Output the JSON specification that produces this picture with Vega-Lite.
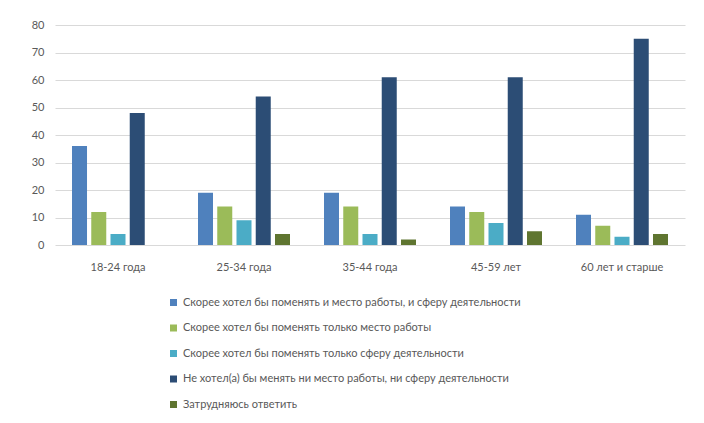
{
  "$schema": "https://vega.github.io/schema/vega-lite/v6.json",
  "width": 630,
  "height": 220,
  "autosize": "none",
  "padding": {"left": 55, "top": 25, "right": 19, "bottom": 178},
  "background": "white",
  "data": {
    "values": [
      {"age": "18-24 года", "answer": "Скорее хотел бы поменять и место работы, и сферу деятельности", "value": 36},
      {"age": "18-24 года", "answer": "Скорее хотел бы поменять только место работы", "value": 12},
      {"age": "18-24 года", "answer": "Скорее хотел бы поменять только сферу деятельности", "value": 4},
      {"age": "18-24 года", "answer": "Не хотел(а) бы менять ни место работы, ни сферу деятельности", "value": 48},
      {"age": "18-24 года", "answer": "Затрудняюсь ответить", "value": 0},
      {"age": "25-34 года", "answer": "Скорее хотел бы поменять и место работы, и сферу деятельности", "value": 19},
      {"age": "25-34 года", "answer": "Скорее хотел бы поменять только место работы", "value": 14},
      {"age": "25-34 года", "answer": "Скорее хотел бы поменять только сферу деятельности", "value": 9},
      {"age": "25-34 года", "answer": "Не хотел(а) бы менять ни место работы, ни сферу деятельности", "value": 54},
      {"age": "25-34 года", "answer": "Затрудняюсь ответить", "value": 4},
      {"age": "35-44 года", "answer": "Скорее хотел бы поменять и место работы, и сферу деятельности", "value": 19},
      {"age": "35-44 года", "answer": "Скорее хотел бы поменять только место работы", "value": 14},
      {"age": "35-44 года", "answer": "Скорее хотел бы поменять только сферу деятельности", "value": 4},
      {"age": "35-44 года", "answer": "Не хотел(а) бы менять ни место работы, ни сферу деятельности", "value": 61},
      {"age": "35-44 года", "answer": "Затрудняюсь ответить", "value": 2},
      {"age": "45-59 лет", "answer": "Скорее хотел бы поменять и место работы, и сферу деятельности", "value": 14},
      {"age": "45-59 лет", "answer": "Скорее хотел бы поменять только место работы", "value": 12},
      {"age": "45-59 лет", "answer": "Скорее хотел бы поменять только сферу деятельности", "value": 8},
      {"age": "45-59 лет", "answer": "Не хотел(а) бы менять ни место работы, ни сферу деятельности", "value": 61},
      {"age": "45-59 лет", "answer": "Затрудняюсь ответить", "value": 5},
      {"age": "60 лет и старше", "answer": "Скорее хотел бы поменять и место работы, и сферу деятельности", "value": 11},
      {"age": "60 лет и старше", "answer": "Скорее хотел бы поменять только место работы", "value": 7},
      {"age": "60 лет и старше", "answer": "Скорее хотел бы поменять только сферу деятельности", "value": 3},
      {"age": "60 лет и старше", "answer": "Не хотел(а) бы менять ни место работы, ни сферу деятельности", "value": 75},
      {"age": "60 лет и старше", "answer": "Затрудняюсь ответить", "value": 4}
    ]
  },
  "mark": {"type": "bar"},
  "encoding": {
    "x": {
      "field": "age",
      "type": "nominal",
      "sort": null,
      "title": null,
      "scale": {"paddingInner": 0.27, "paddingOuter": 0.135},
      "axis": {"labelAngle": 0, "ticks": false, "domain": false, "labelPadding": 16, "labelFontSize": 11}
    },
    "xOffset": {
      "field": "answer",
      "type": "nominal",
      "sort": null,
      "scale": {"paddingInner": 0.22}
    },
    "y": {
      "field": "value",
      "type": "quantitative",
      "title": null,
      "scale": {"domain": [0, 80]},
      "axis": {"tickCount": 8, "ticks": false, "domain": false, "labelPadding": 11, "labelFontSize": 11}
    },
    "color": {
      "field": "answer",
      "type": "nominal",
      "sort": null,
      "title": null,
      "scale": {
        "domain": [
          "Скорее хотел бы поменять и место работы, и сферу деятельности",
          "Скорее хотел бы поменять только место работы",
          "Скорее хотел бы поменять только сферу деятельности",
          "Не хотел(а) бы менять ни место работы, ни сферу деятельности",
          "Затрудняюсь ответить"
        ],
        "range": ["#4F81BD", "#9BBB59", "#4BACC6", "#2C4D75", "#5F7530"]
      },
      "legend": {
        "orient": "none",
        "direction": "vertical",
        "legendX": 113,
        "legendY": 272,
        "symbolType": "square",
        "symbolSize": 49,
        "labelFontSize": 11,
        "rowPadding": 13.5,
        "labelLimit": 500
      }
    }
  },
  "config": {
    "font": "Lato",
    "view": {"stroke": null},
    "axis": {"labelColor": "#595959", "gridColor": "#D9D9D9", "labelFont": "Lato"},
    "axisX": {"grid": false},
    "legend": {"labelColor": "#595959", "labelFont": "Lato"}
  }
}
